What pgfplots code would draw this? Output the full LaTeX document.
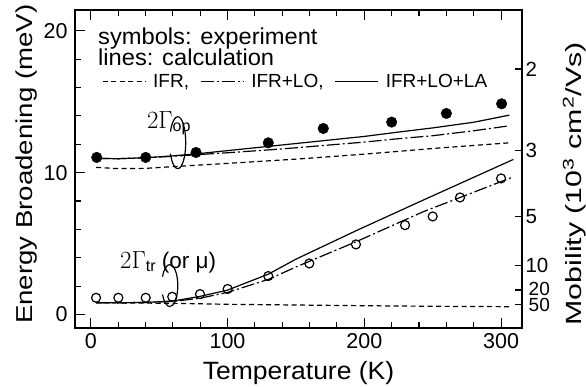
\documentclass[border=0pt]{standalone}
\usepackage{fontspec}
\setmainfont{Liberation Sans}
\usepackage{graphicx}
\usepackage{pgfplots}
\pgfplotsset{compat=1.18}
\begin{document}
\begin{tikzpicture}
\useasboundingbox (-75bp,-59bp) rectangle (511bp,328bp);
\begin{axis}[
  scale only axis, width=447bp, height=318bp,
  xmin=-11.5, xmax=315.3, ymin=-0.95, ymax=21.46,
  clip=false,
  axis line style={line width=1.2bp},
  every tick/.style={black, line width=1.1bp},
  tick align=inside,
  major tick length=10bp, minor tick length=6bp,
  xtick={0,100,200,300}, minor x tick num=4,
  ytick={0,10,20}, minor y tick num=4,
  ytick pos=left,
  /pgf/number format/assume math mode=true,
  tick label style={font=\fontsize{21.5bp}{24bp}\selectfont},
  yticklabel style={xshift=-4bp},
  xticklabel style={yshift=-2bp},
  xlabel={\scalebox{1.06}[1]{Temperature (K)}},
  xlabel style={font=\fontsize{25bp}{28bp}\selectfont, at={(axis description cs:0.5,-0.163)}, anchor=base},
  ylabel={\scalebox{1.2}[1]{Energy Broadening (meV)}},
  ylabel style={font=\fontsize{23bp}{26bp}\selectfont, at={(axis description cs:-0.094,0.515)}, anchor=base},
  legend columns=3,
  legend style={at={(axis description cs:0.06,0.774)}, anchor=west, draw=none, fill=none, inner sep=0pt,
    font=\fontsize{19bp}{21bp}\selectfont,
    /tikz/every odd column/.append style={column sep=5bp},
    /tikz/every even column/.append style={column sep=9bp}},
  legend image code/.code={\draw[#1] (0bp,0bp) -- (43bp,0bp);},
]
\addlegendimage{black, line width=1.2bp, dash pattern=on 5bp off 3.5bp}
\addlegendentry{IFR,}
\addlegendimage{black, line width=1.2bp, dash pattern=on 13bp off 3bp on 2bp off 3bp}
\addlegendentry{IFR+LO,}
\addlegendimage{black, line width=1.2bp}
\addlegendentry{IFR+LO+LA}

% 2 Gamma_op : IFR (dashed)
\addplot[forget plot, black, line width=1.2bp, dash pattern=on 5bp off 3.5bp] coordinates {
(4,10.37) (20,10.28) (40,10.3) (60,10.42) (100,10.65) (150,10.95) (200,11.3) (250,11.7) (306,12.1)};
% 2 Gamma_op : IFR+LO (dash-dot)
\addplot[forget plot, black, line width=1.2bp, dash pattern=on 13bp off 3bp on 2bp off 3bp] coordinates {
(4,11.0) (20,10.98) (40,11.05) (60,11.15) (80,11.28) (100,11.4) (130,11.6) (150,11.75) (200,12.15) (226,12.4) (250,12.6) (280,12.95) (306,13.3)};
% 2 Gamma_op : IFR+LO+LA (solid)
\addplot[forget plot, black, line width=1.2bp] coordinates {
(4,11.0) (20,10.98) (40,11.05) (60,11.18) (80,11.35) (100,11.55) (130,11.85) (150,12.05) (200,12.55) (226,12.87) (250,13.15) (280,13.55) (306,14.05)};
% 2 Gamma_tr : IFR (dashed)
\addplot[forget plot, black, line width=1.2bp, dash pattern=on 5bp off 3.5bp] coordinates {
(4,0.83) (60,0.79) (100,0.72) (150,0.67) (200,0.62) (250,0.58) (308,0.55)};
% 2 Gamma_tr : IFR+LO (dash-dot)
\addplot[forget plot, black, line width=1.2bp, dash pattern=on 13bp off 3bp on 2bp off 3bp] coordinates {
(4,0.83) (20,0.83) (40,0.85) (60,0.92) (80,1.15) (100,1.56) (130,2.48) (150,3.35) (194,5.13) (243,7.24) (309,9.7)};
% 2 Gamma_tr : IFR+LO+LA (solid)
\addplot[forget plot, black, line width=1.2bp] coordinates {
(4,0.83) (20,0.83) (40,0.85) (60,0.95) (80,1.28) (100,1.72) (130,2.85) (150,3.9) (195,5.95) (243,8.06) (309,10.93)};
% experiment: 2 Gamma_op (filled)
\addplot[forget plot, only marks, mark=*, mark size=5.3bp, black] coordinates {
(4.4,11.07) (40.2,11.07) (77,11.42) (129.8,12.1) (170,13.11) (220,13.56) (260,14.17) (300.4,14.85)};
% experiment: 2 Gamma_tr (open)
\addplot[forget plot, only marks, mark=o, mark size=4.5bp, black, line width=1.2bp, mark options={fill=white}] coordinates {
(3.9,1.18) (20.2,1.18) (40.2,1.18) (59.6,1.25) (79.9,1.44) (100.1,1.80) (129.8,2.71) (159.8,3.6) (193.9,4.94) (229.8,6.3) (250,6.91) (270,8.25) (300,9.59)};

\node[anchor=base west, inner sep=0pt, font=\fontsize{23bp}{26bp}\selectfont] at (axis cs:5.3,19.05) {\scalebox{1.03}[1]{symbols: experiment}};
\node[anchor=base west, inner sep=0pt, font=\fontsize{23bp}{26bp}\selectfont] at (axis cs:5.3,17.52) {\scalebox{1.03}[1]{lines: calculation}};

\node[anchor=base west, inner sep=0pt] at (axis cs:41,13.1) {{\fontsize{24bp}{24bp}\selectfont$2\Gamma$}\raisebox{-3bp}{\fontsize{16bp}{16bp}\selectfont op}};
\node[anchor=base west, inner sep=0pt] at (axis cs:21.4,3.27) {{\fontsize{24bp}{24bp}\selectfont$2\Gamma$}\raisebox{-3bp}{\fontsize{16bp}{16bp}\selectfont tr}{\fontsize{22.5bp}{24bp}\selectfont\ (or μ)}};

\draw[line width=1.2bp] (axis cs:52.1,11.16) ++(0,26bp) arc[start angle=90,end angle=-90,x radius=8bp,y radius=26bp];
\draw[line width=1.2bp] (axis cs:52.1,11.16) ++(0,26bp) arc[start angle=90,end angle=155,x radius=8bp,y radius=26bp];
\draw[line width=1.2bp] (axis cs:52.1,11.16) ++(0,-26bp) arc[start angle=270,end angle=205,x radius=8bp,y radius=26bp];
\draw[line width=1.2bp] (axis cs:46.3,1.09) ++(0,21bp) arc[start angle=90,end angle=-90,x radius=8bp,y radius=21bp];
\draw[line width=1.2bp] (axis cs:46.3,1.09) ++(0,21bp) arc[start angle=90,end angle=155,x radius=8bp,y radius=21bp];
\draw[line width=1.2bp] (axis cs:46.3,1.09) ++(0,-21bp) arc[start angle=270,end angle=205,x radius=8bp,y radius=21bp];
\end{axis}
\begin{axis}[
  scale only axis, width=447bp, height=318bp,
  xmin=-11.5, xmax=315.3, ymin=-0.95, ymax=21.46,
  clip=false,
  axis x line=none, axis y line*=right,
  axis line style={line width=1.2bp},
  every tick/.style={black, line width=1.1bp},
  tick align=inside, major tick length=7bp,
  ytick={17.3,11.53,6.92,3.46,1.73,0.69},
  yticklabels={2,3,5,10,{},{}},
  /pgf/number format/assume math mode=true,
  tick label style={font=\fontsize{20.5bp}{22bp}\selectfont},
  yticklabel style={anchor=west, xshift=0bp, inner ysep=0pt},
  ylabel={\scalebox{1.38}[1]{Mobility (10\textsuperscript{3} cm\textsuperscript{2}/Vs)}},
  ylabel style={font=\fontsize{22bp}{26bp}\selectfont, at={(axis description cs:1.132,0.453)}, anchor=base},
]
\addplot[draw=none, forget plot] coordinates {(0,0)};
% stacked tick labels for the 20 and 50 ticks (one text block, as in the reference)
\node[anchor=west, align=left, inner xsep=0pt, inner ysep=0pt, xshift=6.5bp,
      font=\fontsize{19bp}{16bp}\selectfont] at (axis cs:315.3,1.21) {20\\50};
\end{axis}
\end{tikzpicture}
\end{document}
